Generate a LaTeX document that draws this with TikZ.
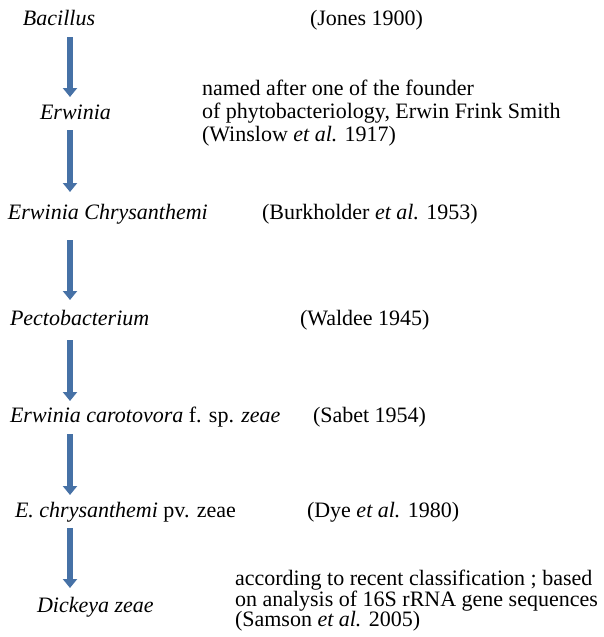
\documentclass[tikz,border=0pt]{standalone}
\usepackage{fontspec}
\setmainfont{Liberation Serif}
\usetikzlibrary{arrows.meta}
\definecolor{arrblue}{HTML}{4671A6}
\begin{document}
\begin{tikzpicture}[x=1pt,y=-1pt,
  txt/.style={inner sep=0pt, outer sep=0pt, anchor=base west, font=\fontsize{22}{24}\selectfont},
  flowarrow/.style={line width=6.5pt, draw=arrblue, -{Triangle[width=14pt,length=9pt]}}]
\useasboundingbox (0,0) rectangle (603,637);
% left column
\node[txt] (bac) at (23,25) {\textit{Bacillus}};
\node[txt] (erw) at (40,119) {\textit{Erwinia}};
\node[txt] (erwc) at (8,219) {\textit{Erwinia Chrysanthemi}};
\node[txt] (pect) at (10,325) {\textit{Pectobacterium}};
\node[txt] (ecar) at (10,422) {\textit{Erwinia carotovora} f. sp. \textit{zeae}};
\node[txt] (echr) at (15,517) {\textit{E. chrysanthemi} pv. zeae};
\node[txt] (dick) at (37,612) {\textit{Dickeya zeae}};
% right column
\node[txt] (jones) at (310,25) {(Jones 1900)};
\node[txt] (nam1) at (202,95) {named after one of the founder};
\node[txt] (nam2) at (202,118) {of phytobacteriology, Erwin Frink Smith};
\node[txt] (nam3) at (202,141) {(Winslow \textit{et al.} 1917)};
\node[txt] (burk) at (262,219) {(Burkholder \textit{et al.} 1953)};
\node[txt] (wald) at (300,325) {(Waldee 1945)};
\node[txt] (sabet) at (313,422) {(Sabet 1954)};
\node[txt] (dye) at (307,517) {(Dye \textit{et al.} 1980)};
\node[txt] (acc1) at (235,585) {according to recent classification ; based};
\node[txt] (acc2) at (235,606) {on analysis of 16S rRNA gene sequences};
\node[txt] (acc3) at (235,626) {(Samson \textit{et al.} 2005)};
% arrows
\coordinate (a1s) at (70,37);  \coordinate (a1e) at (70,97);
\coordinate (a2s) at (70,130); \coordinate (a2e) at (70,192);
\coordinate (a3s) at (70,240); \coordinate (a3e) at (70,300);
\coordinate (a4s) at (70,340); \coordinate (a4e) at (70,401);
\coordinate (a5s) at (70,434); \coordinate (a5e) at (70,495);
\coordinate (a6s) at (70,528); \coordinate (a6e) at (70,588);
\foreach \i in {1,...,6} {\draw[flowarrow] (a\i s) -- (a\i e);}
\end{tikzpicture}
\end{document}
